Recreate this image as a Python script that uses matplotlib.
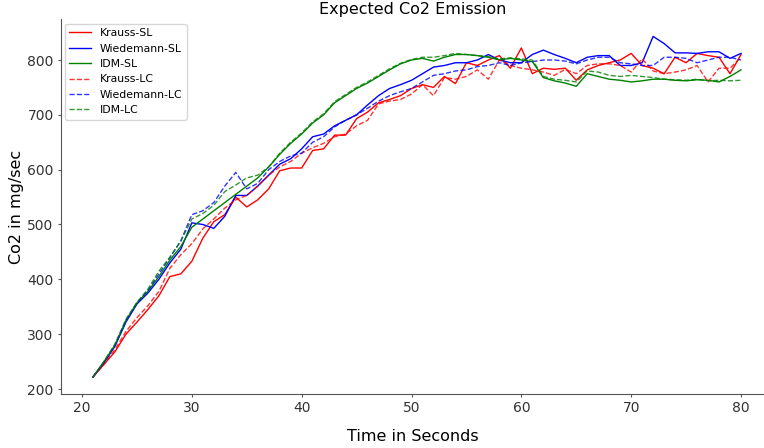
import matplotlib
matplotlib.use("Agg")
import matplotlib.pyplot as plt
import numpy as np

time = list(range(21, 81))

krauss_sl = [222, 245, 268, 300, 322, 345, 370, 405, 410, 433, 475, 505, 518, 550, 532,
             545, 565, 598, 603, 603, 635, 638, 663, 663, 693, 705, 722, 728, 735, 748,
             755, 750, 770, 757, 795, 790, 800, 808, 785, 822, 775, 785, 783, 785, 763,
             782, 790, 795, 800, 812, 790, 785, 775, 805, 795, 812, 808, 805, 775, 810]
wiedemann_sl = [222, 248, 278, 322, 355, 375, 400, 430, 455, 503, 500, 493, 515, 553, 553,
                570, 590, 610, 620, 638, 660, 665, 680, 690, 700, 718, 735, 748, 755, 763,
                775, 787, 790, 795, 795, 800, 810, 800, 795, 795, 810, 818, 810, 803, 795,
                805, 808, 808, 790, 790, 795, 843, 830, 813, 813, 812, 815, 815, 803, 812]
idm_sl = [222, 250, 280, 325, 357, 378, 405, 435, 460, 495, 510, 525, 540, 555, 570,
          585, 605, 628, 648, 665, 685, 700, 722, 735, 748, 758, 770, 782, 793, 800,
          803, 798, 805, 810, 810, 808, 805, 800, 803, 800, 797, 768, 762, 758, 752,
          775, 770, 765, 763, 760, 762, 765, 765, 763, 762, 764, 763, 760, 770, 782]
krauss_lc = [222, 245, 272, 305, 330, 352, 378, 420, 445, 465, 492, 510, 530, 545, 553,
             570, 590, 605, 615, 630, 640, 648, 660, 665, 680, 690, 720, 725, 728, 738,
             755, 735, 768, 765, 770, 782, 765, 800, 790, 785, 782, 778, 772, 783, 775,
             790, 793, 793, 790, 778, 802, 780, 775, 778, 782, 790, 760, 785, 785, 805]
wiedemann_lc = [222, 248, 280, 325, 357, 380, 410, 440, 470, 518, 525, 540, 570, 595, 565,
                575, 600, 615, 625, 630, 650, 660, 678, 690, 700, 712, 725, 735, 742, 748,
                760, 772, 775, 780, 782, 788, 790, 795, 790, 795, 797, 800, 800, 798, 793,
                800, 805, 805, 795, 793, 790, 790, 805, 805, 803, 795, 800, 805, 805, 800]
idm_lc = [222, 250, 282, 327, 358, 382, 415, 440, 470, 510, 520, 535, 560, 572, 585,
          590, 605, 630, 650, 667, 687, 702, 724, 737, 750, 760, 772, 784, 794, 801,
          805, 805, 808, 812, 810, 808, 806, 802, 804, 802, 800, 770, 765, 763, 760,
          780, 778, 772, 770, 772, 770, 768, 765, 764, 763, 765, 762, 763, 762, 763]

W, H = 764, 448
# axes: x=20 -> 82px, x=80 -> 741px ; y=200 -> 389px, y=800 -> 60px
xpp = (741 - 82) / 60.0
ypp = (389 - 60) / 600.0
x0, x1 = 18.05, 82.1
y0, y1 = 191, 874
left = 82 - (20 - x0) * xpp
right = 741 + (x1 - 80) * xpp
bottom = 389 + (200 - y0) * ypp
top = 60 - (y1 - 800) * ypp

fig = plt.figure(figsize=(W / 100, H / 100), dpi=100)
ax = fig.add_axes([left / W, (H - bottom) / H, (right - left) / W, (bottom - top) / H])

ax.plot(time, krauss_sl, color='red', lw=1, label='Krauss-SL')
ax.plot(time, wiedemann_sl, color='blue', lw=1, label='Wiedemann-SL')
ax.plot(time, idm_sl, color='green', lw=1, label='IDM-SL')
ax.plot(time, krauss_lc, color='red', lw=1, ls='--', alpha=0.8, label='Krauss-LC')
ax.plot(time, wiedemann_lc, color='blue', lw=1, ls='--', alpha=0.8, label='Wiedemann-LC')
ax.plot(time, idm_lc, color='green', lw=1, ls='--', alpha=0.8, label='IDM-LC')

ax.set_xlim(x0, x1)
ax.set_ylim(y0, y1)
ax.set_xticks([20, 30, 40, 50, 60, 70, 80])
ax.set_yticks([200, 300, 400, 500, 600, 700, 800])
ax.tick_params(labelsize=10, colors='#333333', color='#555555', length=2.5, pad=2.5)
for s in ['left', 'bottom']:
    ax.spines[s].set_color('#555555')
ax.spines['top'].set_visible(False)
ax.spines['right'].set_visible(False)

ax.set_title('Expected Co2 Emission', fontsize=11.5, pad=4)
ax.set_xlabel('Time in Seconds', fontsize=11.5, labelpad=10)
ax.set_ylabel('Co2 in mg/sec', fontsize=11.5, labelpad=2)
ax.legend(loc='upper left', fontsize=7.8, frameon=True, borderaxespad=0.4)

fig.savefig('out.png', dpi=100)
